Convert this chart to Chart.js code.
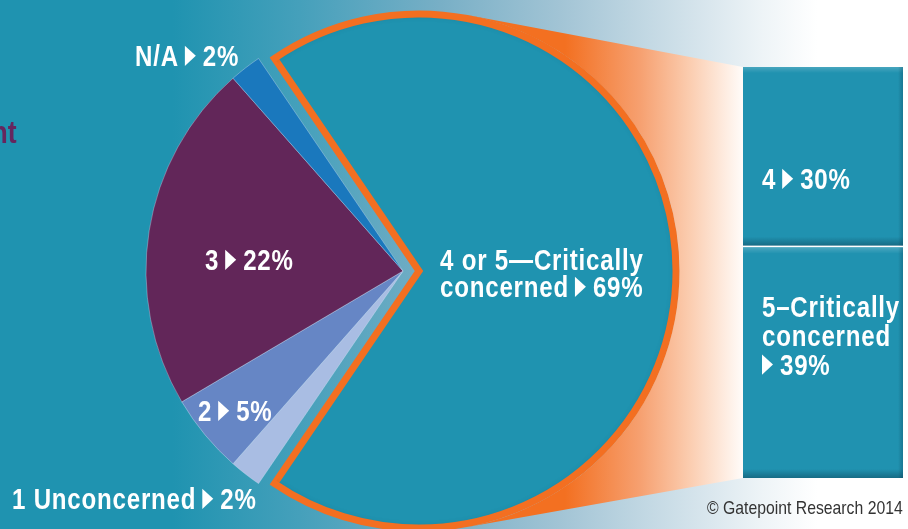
<!DOCTYPE html>
<html><head><meta charset="utf-8">
<script src="https://cdn.jsdelivr.net/npm/chart.js@4.4.1/dist/chart.umd.min.js"></script>
<style>
html,body{margin:0;padding:0;background:#fff;overflow:hidden}
#wrap{position:relative;width:908px;height:529px}
#pie{position:absolute;left:0;top:0}
#bar{position:absolute;left:743px;top:67px}
</style></head><body>
<div id="wrap"><canvas id="pie" width="908" height="529"></canvas><canvas id="bar" width="160" height="411"></canvas></div>
<script>
// ---- data ----
const pieLabels = ['4 or 5—Critically concerned', '1 Unconcerned', '2', '3', 'N/A'];
const pieValues = [69, 2, 5, 22, 2];
const pieTextLines = [['4 or 5—Critically', 'concerned ▸'], ['1 Unconcerned ▸'], ['2 ▸'], ['3 ▸'], ['N/A ▸']];
const barLabels = ['4 or 5—Critically concerned'];
const bar5Values = [39];
const bar4Values = [30];
const bar5Text = ['5–Critically', 'concerned', '▸'];
const bar4Text = ['4 ▸'];
const titleFragment = 'nt';
const sourceNote = '© Gatepoint Research 2014';

// ---- styles / layout ----
const pieColors = ['#1f93b0', '#a9bde3', '#6686c5', '#622659', '#1a78bd'];
const FONT = '"Liberation Sans", Arial, sans-serif';
const SX = 0.83;            // horizontal condensing of the text
const LBL_SIZE = 29, LBL_SPACING = 0.8;
const labelPos = [[440, 270], [12, 509], [198, 421], [205, 270], [135, 66]];
const LINE_H = 27;
const EXPLODE = 16;
const BAR = {left: 743, top: 67, width: 160, height: 411};

function condText(ctx, s, x, y, spacing) {
  ctx.letterSpacing = (spacing / SX) + 'px';
  ctx.save();
  ctx.translate(x, y);
  ctx.scale(SX, 1);
  ctx.fillText(s, 0, 0);
  ctx.restore();
  return ctx.measureText(s).width * SX;
}

function drawRich(ctx, x, y, str, size) {
  ctx.font = 'bold ' + size + 'px ' + FONT;
  ctx.textAlign = 'left';
  ctx.textBaseline = 'alphabetic';
  ctx.fillStyle = '#ffffff';
  const idx = str.indexOf('▸');
  if (idx < 0) { condText(ctx, str, x, y, LBL_SPACING); return; }
  const before = str.slice(0, idx).trim();
  const after = str.slice(idx + 1).trim();
  let cx = x;
  if (before) { cx += condText(ctx, before, cx, y, LBL_SPACING) + 6; }
  const capH = size * 0.70;
  ctx.beginPath();
  ctx.moveTo(cx, y - capH);
  ctx.lineTo(cx + 11, y - capH / 2);
  ctx.lineTo(cx, y);
  ctx.closePath();
  ctx.fill();
  cx += 11 + 7;
  if (after) condText(ctx, after, cx, y, LBL_SPACING);
}

const bgPlugin = {
  id: 'bg',
  beforeDraw(chart) {
    const ctx = chart.ctx, w = chart.width, h = chart.height;
    const g = ctx.createLinearGradient(0, 0, w, 0);
    g.addColorStop(0, '#1f93b0');
    g.addColorStop(0.19, '#1f93b0');
    g.addColorStop(0.33, '#45a0bb');
    g.addColorStop(0.485, '#78afc6');
    g.addColorStop(0.617, '#a2c4d5');
    g.addColorStop(0.75, '#cfe0e9');
    g.addColorStop(0.84, '#eef4f7');
    g.addColorStop(0.9, '#ffffff');
    g.addColorStop(1, '#ffffff');
    ctx.save();
    ctx.fillStyle = g;
    ctx.fillRect(0, 0, w, h);
    ctx.restore();
  },
  afterDatasetsUpdate(chart) {
    const arc = chart.getDatasetMeta(0).data[0];
    const mid = (arc.startAngle + arc.endAngle) / 2;
    arc.x += Math.cos(mid) * EXPLODE;
    arc.y += Math.sin(mid) * EXPLODE;
  },
  beforeDatasetsDraw(chart) {
    const ctx = chart.ctx;
    const arc = chart.getDatasetMeta(0).data[0];
    const cx = arc.x, cy = arc.y, r = arc.outerRadius + 3.5;
    const P1 = [BAR.left, BAR.top], P2 = [BAR.left, BAR.top + BAR.height];
    function tangent(P, sign) {
      const dx = P[0] - cx, dy = P[1] - cy;
      const d = Math.hypot(dx, dy);
      return Math.atan2(dy, dx) + sign * Math.acos(r / d);
    }
    const a1 = tangent(P1, -1), a2 = tangent(P2, 1);
    const g = ctx.createLinearGradient(0, 0, chart.width, 0);
    g.addColorStop(565 / 908, '#f37021');
    g.addColorStop(640 / 908, '#f6a070');
    g.addColorStop(690 / 908, '#fbcdb0');
    g.addColorStop(742 / 908, '#fffbf8');
    ctx.save();
    ctx.beginPath();
    ctx.moveTo(cx + r * Math.cos(a1), cy + r * Math.sin(a1));
    ctx.lineTo(P1[0], P1[1]);
    ctx.lineTo(P2[0], P2[1]);
    ctx.lineTo(cx + r * Math.cos(a2), cy + r * Math.sin(a2));
    ctx.arc(cx, cy, r, a2, a1, true);
    ctx.closePath();
    ctx.fillStyle = g;
    ctx.fill();
    ctx.restore();
  },
  afterDatasetsDraw(chart) {
    const ctx = chart.ctx;
    // soft inner shadow along the rim of the exploded slice
    const arc = chart.getDatasetMeta(0).data[0];
    ctx.save();
    ctx.beginPath();
    ctx.moveTo(arc.x, arc.y);
    ctx.arc(arc.x, arc.y, arc.outerRadius - 3.5, arc.startAngle, arc.endAngle);
    ctx.closePath();
    ctx.clip();
    ctx.beginPath();
    ctx.arc(arc.x, arc.y, arc.outerRadius + 4, 0, Math.PI * 2);
    ctx.lineWidth = 8;
    ctx.strokeStyle = 'rgba(10,60,80,0.6)';
    ctx.shadowColor = 'rgba(10,60,80,0.55)';
    ctx.shadowBlur = 7;
    ctx.stroke();
    ctx.restore();

    ctx.save();
    pieTextLines.forEach((lines, i) => {
      const [x, y] = labelPos[i];
      lines.forEach((ln, j) => {
        const txt = j === lines.length - 1 ? ln + pieValues[i] + '%' : ln;
        drawRich(ctx, x, y + j * LINE_H, txt, LBL_SIZE);
      });
    });
    ctx.font = 'bold 32px ' + FONT;
    ctx.fillStyle = '#66265e';
    ctx.textAlign = 'right';
    condText(ctx, titleFragment, 16.5, 143, 0);
    ctx.font = '19px ' + FONT;
    ctx.fillStyle = '#333333';
    ctx.textAlign = 'left';
    condText(ctx, sourceNote, 707, 514, 0);
    ctx.restore();
  }
};

new Chart(document.getElementById('pie'), {
  type: 'pie',
  data: {
    labels: pieLabels,
    datasets: [{
      data: pieValues,
      backgroundColor: pieColors,
      borderColor: ['#f36f21', 'rgba(210,225,245,0.55)', 'rgba(210,225,245,0.55)', 'rgba(210,225,245,0.45)', 'rgba(210,225,245,0.45)'],
      borderWidth: [7, 0.8, 0.8, 0.8, 0.8],
      borderJoinStyle: 'miter'
    }]
  },
  options: {
    responsive: false,
    animation: false,
    devicePixelRatio: 1,
    rotation: -34.2,
    radius: 257,
    layout: {padding: {left: 0, right: 102, top: 13, bottom: 0}},
    plugins: {legend: {display: false}, tooltip: {enabled: false}}
  },
  plugins: [bgPlugin]
});

const barShade = {
  id: 'barShade',
  afterDatasetsDraw(chart) {
    const ctx = chart.ctx;
    ctx.save();
    chart.data.datasets.forEach((ds, di) => {
      chart.getDatasetMeta(di).data.forEach(el => {
        const left = el.x - el.width / 2, right = el.x + el.width / 2;
        const top = Math.min(el.y, el.base) + (di === 0 ? 2 : 0), bot = Math.max(el.y, el.base);
        let g = ctx.createLinearGradient(0, bot - 9, 0, bot);
        g.addColorStop(0, 'rgba(10,60,80,0)');
        g.addColorStop(1, 'rgba(10,60,80,0.45)');
        ctx.fillStyle = g;
        ctx.fillRect(left, bot - 9, right - left, 9);
        g = ctx.createLinearGradient(0, top, 0, top + 6);
        g.addColorStop(0, 'rgba(255,255,255,0.18)');
        g.addColorStop(1, 'rgba(255,255,255,0)');
        ctx.fillStyle = g;
        ctx.fillRect(left, top, right - left, 6);
        g = ctx.createLinearGradient(right - 5, 0, right, 0);
        g.addColorStop(0, 'rgba(10,60,80,0)');
        g.addColorStop(1, 'rgba(10,60,80,0.3)');
        ctx.fillStyle = g;
        ctx.fillRect(right - 5, top, 5, bot - top);
      });
    });
    const e4 = chart.getDatasetMeta(1).data[0];
    const e5 = chart.getDatasetMeta(0).data[0];
    const l4 = e4.x - e4.width / 2 + 19, l5 = e5.x - e5.width / 2 + 19;
    bar4Text.forEach((ln, j) => drawRich(ctx, l4, e4.y + 122 + j * 29, j === bar4Text.length - 1 ? ln + bar4Values[0] + '%' : ln, LBL_SIZE));
    bar5Text.forEach((ln, j) => drawRich(ctx, l5, e5.y + 71 + j * 29, j === bar5Text.length - 1 ? ln + bar5Values[0] + '%' : ln, LBL_SIZE));
    ctx.restore();
  }
};

new Chart(document.getElementById('bar'), {
  type: 'bar',
  data: {
    labels: barLabels,
    datasets: [
      {label: '5–Critically concerned', data: bar5Values, backgroundColor: '#2092b0', borderColor: '#ffffff', borderWidth: {top: 2, left: 0, right: 0, bottom: 0}, borderSkipped: false},
      {label: '4', data: bar4Values, backgroundColor: '#2092b0', borderWidth: 0}
    ]
  },
  options: {
    responsive: false,
    animation: false,
    devicePixelRatio: 1,
    layout: {padding: 0},
    datasets: {bar: {barPercentage: 1, categoryPercentage: 1}},
    scales: {
      x: {display: false, stacked: true},
      y: {display: false, stacked: true, min: 0, max: bar4Values[0] + bar5Values[0]}
    },
    plugins: {legend: {display: false}, tooltip: {enabled: false}}
  },
  plugins: [barShade]
});
</script>
</body></html>
